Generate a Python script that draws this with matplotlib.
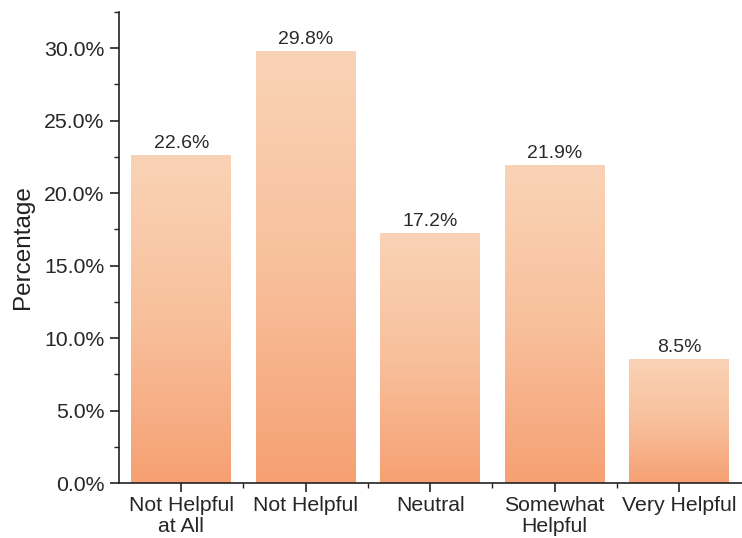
import numpy as np
import matplotlib
matplotlib.use('Agg')
import matplotlib.pyplot as plt
from matplotlib.ticker import MultipleLocator, FuncFormatter, FixedLocator
from matplotlib.colors import LinearSegmentedColormap

categories = ['Not Helpful\nat All', 'Not Helpful', 'Neutral', 'Somewhat\nHelpful', 'Very Helpful']
percent = [22.6, 29.8, 17.2, 21.9, 8.5]

plt.rcParams['font.family'] = ['Liberation Sans', 'DejaVu Sans']

# peach gradient, lighter at the top of each bar
grad = LinearSegmentedColormap.from_list('peach', ['#f6a073', '#f8c09c', '#fad3b6'])

fig = plt.figure(figsize=(7.42, 5.38), dpi=100)
ax = fig.add_axes([0.1604, 0.1022, 0.842, 0.8755])

x = np.arange(len(categories))
width = 0.8
bars = ax.bar(x, percent, width=width, color='none', edgecolor='none')
col = np.linspace(0, 1, 256).reshape(-1, 1)
for b, v in zip(bars, percent):
    x0 = b.get_x()
    ax.imshow(col, cmap=grad, origin='lower', aspect='auto',
              extent=(x0, x0 + width, 0, v), zorder=1)
    ax.text(b.get_x() + width / 2, v + 0.25, '%.1f%%' % v, ha='center', va='bottom',
            fontsize=14, color='#2a2a2a')

ax.set_xlim(-0.5, 4.52)
ax.set_ylim(0, 32.5)

ax.yaxis.set_major_locator(MultipleLocator(5))
ax.yaxis.set_minor_locator(MultipleLocator(2.5))
ax.yaxis.set_major_formatter(FuncFormatter(lambda v, p: '%.1f%%' % v))
ax.set_xticks(x)
ax.set_xticklabels(categories, linespacing=1.15)
ax.xaxis.set_minor_locator(FixedLocator(x[:-1] + 0.5))

for s in ['top', 'right']:
    ax.spines[s].set_visible(False)
for s in ['left', 'bottom']:
    ax.spines[s].set_linewidth(1.2)
    ax.spines[s].set_color('#222222')

ax.tick_params(axis='both', which='major', length=6.5, width=1.2, color='#222222',
               labelsize=15.3, labelcolor='#262626')
ax.tick_params(axis='y', which='major', pad=4)
ax.tick_params(axis='both', which='minor', length=3.5, width=1.0, color='#222222')
ax.tick_params(axis='x', which='major', pad=3)
ax.set_ylabel('Percentage', fontsize=17.5, color='#222222', labelpad=7)

fig.savefig('out.png', dpi=100)
